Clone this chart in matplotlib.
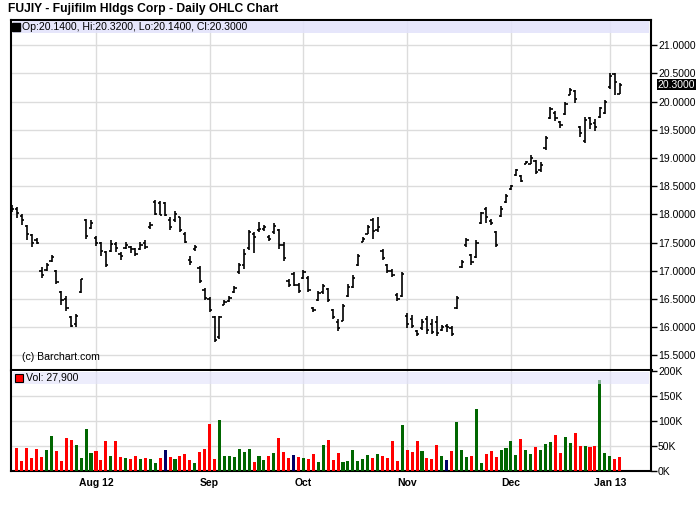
import numpy as np
import pandas as pd
import matplotlib
matplotlib.use("Agg")
import matplotlib.pyplot as plt
from matplotlib.patches import Rectangle

plt.rcParams['font.family'] = ['Liberation Sans', 'DejaVu Sans']

# ---------------- data ----------------
holidays = ['2012-09-03', '2012-10-29', '2012-10-30', '2012-11-22', '2012-12-25', '2013-01-01']
dates = pd.bdate_range('2012-07-09', '2013-01-04')
dates = dates[~dates.isin(pd.to_datetime(holidays))]

opens = [18.14, 18.10, 17.98, 17.80, 17.64, 17.55, 17.00, 17.02, 17.18, 17.00,
         16.62, 16.50, 16.18, 16.05, 16.62, 17.90, 17.76, 17.58, 17.50, 17.34,
         17.36, 17.48, 17.30, 17.40, 17.42, 17.38, 17.38, 17.50, 17.78, 18.22,
         18.20, 18.20, 17.90, 17.90, 17.95, 17.66, 17.20, 17.38, 17.05, 16.66,
         16.50, 16.18, 15.82, 16.40, 16.47, 16.62, 16.98, 17.10, 17.40, 17.66,
         17.72, 17.74, 17.60, 17.68, 17.72, 17.45, 16.82, 16.95, 16.75, 16.88,
         16.88, 16.34, 16.48, 16.62, 16.68, 16.30, 16.10, 16.12, 16.56, 16.72,
         17.10, 17.52, 17.66, 17.90, 17.72, 17.36, 17.10, 17.00, 16.58, 16.55,
         16.20, 16.15, 15.93, 15.98, 16.15, 16.05, 16.10, 15.95, 16.02, 15.98,
         16.35, 17.06, 17.45, 17.28, 17.24, 17.85, 18.10, 17.88, 17.68, 17.98,
         18.22, 18.45, 18.70, 18.68, 18.90, 18.90, 18.95, 18.78, 19.17, 19.70,
         19.80, 19.64, 19.78, 20.12, 20.18, 19.55, 19.30, 19.70, 19.62, 19.72,
         19.80, 20.25, 20.48, 20.14]
highs = [18.16, 18.13, 18.00, 17.81, 17.65, 17.58, 17.06, 17.14, 17.28, 17.01,
         16.64, 16.55, 16.20, 16.24, 16.86, 17.91, 17.90, 17.61, 17.51, 17.35,
         17.55, 17.51, 17.34, 17.51, 17.44, 17.41, 17.51, 17.55, 17.86, 18.25,
         18.23, 18.22, 17.96, 18.06, 17.96, 17.69, 17.26, 17.45, 17.08, 16.69,
         16.54, 16.20, 16.20, 16.49, 16.55, 16.74, 17.14, 17.39, 17.73, 17.69,
         17.87, 17.81, 17.63, 17.84, 17.75, 17.52, 16.86, 16.98, 16.79, 17.01,
         16.90, 16.36, 16.64, 16.77, 16.69, 16.33, 16.15, 16.41, 16.77, 16.92,
         17.29, 17.60, 17.81, 17.93, 17.96, 17.39, 17.12, 17.04, 16.60, 16.98,
         16.25, 16.21, 15.95, 16.15, 16.20, 16.14, 16.20, 16.04, 16.05, 16.02,
         16.55, 17.20, 17.59, 17.30, 17.54, 18.05, 18.14, 17.91, 17.70, 18.15,
         18.36, 18.53, 18.81, 18.70, 18.95, 19.05, 18.97, 18.92, 19.39, 19.90,
         19.83, 19.66, 19.99, 20.24, 20.21, 19.57, 19.72, 19.72, 19.69, 19.91,
         20.03, 20.50, 20.50, 20.32]
lows = [18.05, 17.94, 17.81, 17.55, 17.42, 17.47, 16.88, 17.00, 17.16, 16.76,
        16.40, 16.29, 16.00, 16.01, 16.60, 17.56, 17.74, 17.44, 17.26, 17.06,
        17.34, 17.33, 17.20, 17.38, 17.32, 17.26, 17.37, 17.38, 17.75, 17.99,
        17.99, 17.97, 17.73, 17.87, 17.69, 17.50, 17.11, 17.35, 16.79, 16.49,
        16.27, 15.74, 15.80, 16.39, 16.45, 16.60, 16.95, 17.04, 17.37, 17.32,
        17.69, 17.71, 17.53, 17.66, 17.39, 17.18, 16.72, 16.73, 16.61, 16.86,
        16.63, 16.27, 16.47, 16.59, 16.45, 16.14, 15.93, 16.11, 16.54, 16.70,
        17.08, 17.51, 17.65, 17.56, 17.69, 17.19, 16.96, 16.89, 16.46, 16.53,
        15.99, 15.99, 15.85, 15.96, 15.88, 15.88, 15.85, 15.93, 15.92, 15.85,
        16.33, 17.05, 17.42, 17.10, 17.22, 17.83, 17.85, 17.81, 17.42, 17.96,
        18.20, 18.43, 18.68, 18.57, 18.89, 18.89, 18.71, 18.76, 19.15, 19.69,
        19.66, 19.54, 19.77, 20.11, 19.97, 19.38, 19.26, 19.51, 19.48, 19.70,
        19.78, 20.22, 20.11, 20.14]
closes = [18.10, 18.02, 17.90, 17.66, 17.50, 17.49, 16.92, 17.10, 17.25, 16.80,
          16.48, 16.35, 16.02, 16.20, 16.85, 17.62, 17.85, 17.50, 17.35, 17.10,
          17.48, 17.40, 17.26, 17.45, 17.38, 17.30, 17.46, 17.42, 17.82, 18.00,
          17.99, 17.99, 17.78, 18.00, 17.72, 17.52, 17.15, 17.42, 16.82, 16.52,
          16.30, 15.78, 16.18, 16.45, 16.52, 16.70, 17.10, 17.30, 17.68, 17.60,
          17.75, 17.78, 17.56, 17.80, 17.45, 17.22, 16.75, 16.75, 16.65, 16.98,
          16.66, 16.30, 16.60, 16.74, 16.48, 16.18, 15.98, 16.38, 16.72, 16.88,
          17.26, 17.56, 17.78, 17.70, 17.78, 17.22, 17.00, 16.92, 16.50, 16.95,
          16.05, 16.02, 15.88, 16.10, 15.95, 15.92, 15.90, 16.00, 16.00, 15.88,
          16.52, 17.15, 17.55, 17.15, 17.50, 18.02, 17.95, 17.84, 17.45, 18.10,
          18.32, 18.50, 18.78, 18.60, 18.93, 19.00, 18.75, 18.88, 19.35, 19.86,
          19.70, 19.58, 19.95, 20.20, 20.05, 19.45, 19.68, 19.60, 19.55, 19.88,
          20.00, 20.45, 20.35, 20.30]
# first bar (Jul 9) shows no volume bar
volumes = [np.nan, 46000, 20000, 46000, 26000, 44000, 28000, 42000, 70000, 40000,
           20000, 66000, 62000, 52000, 26000, 84000, 36000, 40000, 22000, 60000,
           30000, 60000, 28000, 26000, 24000, 30000, 24000, 26000, 24000, 16000,
           26000, 42000, 28000, 24000, 30000, 34000, 22000, 16000, 38000, 44000,
           94000, 24000, 102000, 30000, 30000, 28000, 44000, 38000, 44000, 18000,
           30000, 22000, 30000, 36000, 66000, 38000, 26000, 32000, 28000, 26000,
           24000, 34000, 18000, 52000, 62000, 22000, 36000, 18000, 20000, 42000,
           20000, 24000, 32000, 26000, 34000, 30000, 26000, 60000, 20000, 92000,
           42000, 38000, 60000, 40000, 26000, 24000, 52000, 30000, 22000, 40000,
           98000, 42000, 28000, 30000, 124000, 16000, 34000, 40000, 28000, 42000,
           46000, 60000, 32000, 64000, 42000, 34000, 48000, 42000, 54000, 58000,
           72000, 36000, 68000, 56000, 76000, 50000, 50000, 48000, 50000, 182000,
           36000, 30000, 24000, 27900]
month_labels = ["Aug 12", "Sep", "Oct", "Nov", "Dec", "Jan 13"]
price_ticks = [15.5, 16.0, 16.5, 17.0, 17.5, 18.0, 18.5, 19.0, 19.5, 20.0, 20.5, 21.0]
vol_ticks = [0, 50000, 100000, 150000, 200000]
vol_tick_labels = ["0K", "50K", "100K", "150K", "200K"]

title = "FUJIY - Fujifilm Hldgs Corp - Daily OHLC Chart"

# ---------------- figure ----------------
W, H = 700, 512
fig = plt.figure(figsize=(W / 100, H / 100), dpi=100)
fig.patch.set_facecolor('white')

def fx(px):
    return px / W

def fy(py):
    return 1 - py / H

L, R = 11, 651
PW = R - L
ax = fig.add_axes([fx(L), fy(370), fx(PW), (370 - 20) / H])
axv = fig.add_axes([fx(L), fy(471), fx(PW), (471 - 371) / H])

n = len(closes)
x = np.arange(n)
o = np.array(opens); h = np.array(highs); l = np.array(lows); c = np.array(closes)
v = np.array(volumes, dtype=float)

xlim = (-0.2, 129.35)
grid_c = '#DCDCDC'

months = pd.Series(dates.month)
month_idx = [i for i in range(1, n) if months[i] != months[i - 1]]

# --- price panel ---
ax.set_xlim(*xlim)
ax.set_ylim(15.243, 21.445)
for t in price_ticks:
    ax.axhline(t, color=grid_c, lw=1, zorder=0)
for mi in month_idx:
    ax.axvline(mi, color=grid_c, lw=1, zorder=0)
ax.vlines(x, l, h, color='black', lw=1.2, zorder=3)
ax.hlines(o, x - 0.45, x, color='black', lw=1.2, zorder=3)
ax.hlines(c, x, x + 0.45, color='black', lw=1.2, zorder=3)

ax.yaxis.tick_right()
ax.set_yticks(price_ticks)
ax.set_yticklabels([f"{t:.4f}" for t in price_ticks])
ax.tick_params(axis='y', direction='out', length=4, width=1, pad=1, labelsize=7.5, colors='black')
ax.set_xticks([])
for s in ['left', 'right', 'top']:
    ax.spines[s].set_linewidth(1.5)
    ax.spines[s].set_color('black')
ax.spines['bottom'].set_linewidth(2.2)

# legend band
yb = (370 - 26.5) / 350
ax.add_patch(Rectangle((0.003, (370 - 32.5) / 350), 0.994, 12 / 350, transform=ax.transAxes,
                       facecolor='#E2E2FB', edgecolor='none', alpha=0.85, zorder=4))
ax.plot([(15.5 - L) / PW], [yb], marker='s', markersize=5.2, color='black',
        transform=ax.transAxes, zorder=5, clip_on=False)
ax.text((21.5 - L) / PW, yb,
        f"Op:{o[-1]:.4f}, Hi:{h[-1]:.4f}, Lo:{l[-1]:.4f}, Cl:{c[-1]:.4f}",
        transform=ax.transAxes, fontsize=7.6, va='center', ha='left', zorder=5)
ax.text((22 - L) / PW, (370 - 357.5) / 350, "(c) Barchart.com", transform=ax.transAxes,
        fontsize=7.6, va='center', ha='left', zorder=5)

# last price highlight
ax.annotate(f"{c[-1]:.4f}", xy=(1.0, c[-1]), xycoords=('axes fraction', 'data'),
            xytext=(4.6, 0), textcoords='offset points', va='center', ha='left',
            fontsize=7.5, color='white', zorder=6,
            bbox=dict(boxstyle='square,pad=0.08', facecolor='black', edgecolor='none'))

# --- volume panel ---
axv.set_xlim(*xlim)
axv.set_ylim(0, 200000)
for t in vol_ticks[1:-1]:
    axv.axhline(t, color=grid_c, lw=1, zorder=0)
for mi in month_idx:
    axv.axvline(mi, color=grid_c, lw=1, zorder=0)
prev = np.concatenate([[np.nan], c[:-1]])
colors = np.where(c > prev, '#006600', np.where(c < prev, '#FF0000', '#000066'))
axv.bar(x, v, width=0.62, color=colors, zorder=3)

yvb = (471 - 378) / 100
axv.add_patch(Rectangle((0.003, (471 - 384) / 100), 0.994, 12.5 / 100, transform=axv.transAxes,
                        facecolor='#E2E2FB', edgecolor='none', alpha=0.6, zorder=4))
axv.plot([(18.5 - L) / PW], [yvb], marker='s', markersize=6.0, markerfacecolor='#FF0000',
         markeredgecolor='black', markeredgewidth=0.8, transform=axv.transAxes, zorder=5,
         clip_on=False)
axv.text((26.5 - L) / PW, yvb, f"Vol: {int(v[-1]):,}", transform=axv.transAxes,
         fontsize=7.6, va='center', ha='left', zorder=5)

axv.yaxis.tick_right()
axv.set_yticks(vol_ticks)
axv.set_yticklabels(vol_tick_labels)
axv.tick_params(axis='y', direction='out', length=4, width=1, pad=1, labelsize=7.5, colors='black')
axv.set_xticks(month_idx)
axv.set_xticklabels(month_labels, fontweight='bold', fontsize=7.5)
axv.tick_params(axis='x', length=0, pad=5)
for s in ['left', 'right', 'bottom']:
    axv.spines[s].set_linewidth(1.5)
axv.spines['top'].set_visible(False)

fig.text(fx(8), fy(9), title, fontsize=8.7, fontweight='bold', va='center', ha='left')

fig.savefig('out.png', dpi=100, facecolor='white')
